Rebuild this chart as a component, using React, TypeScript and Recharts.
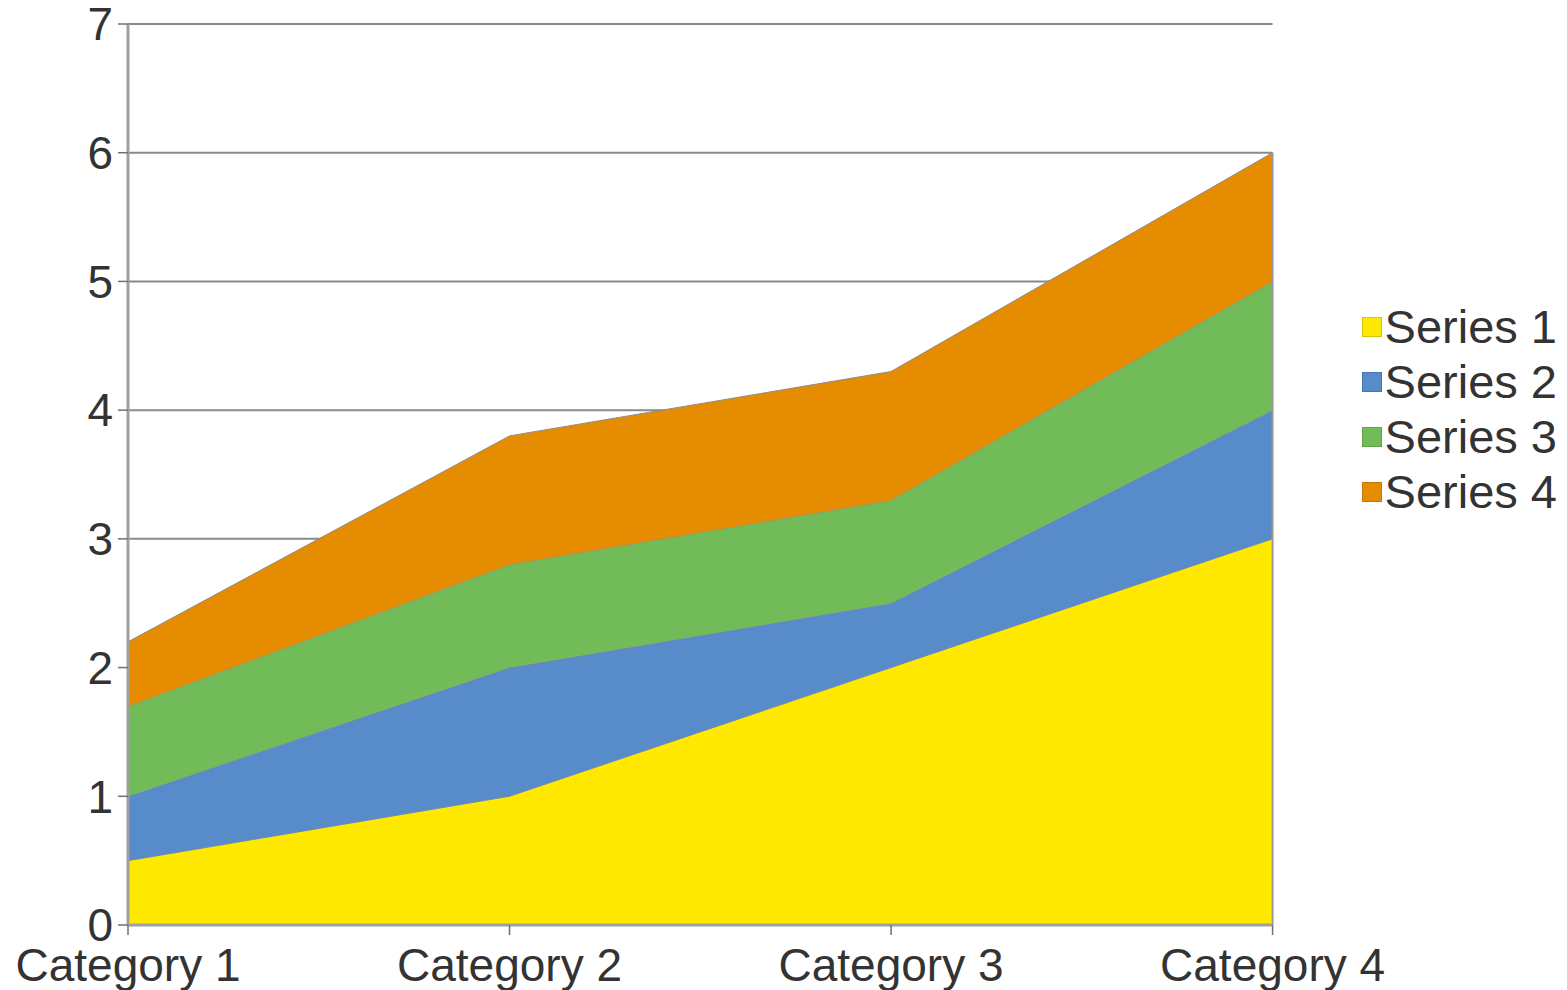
import React from 'react';
import { AreaChart, Area, XAxis, YAxis, CartesianGrid, Legend, ReferenceLine } from 'recharts';

const categories = ['Category 1', 'Category 2', 'Category 3', 'Category 4'];
const series1 = [0.5, 1, 2, 3];
const series2 = [0.5, 1, 0.5, 1];
const series3 = [0.7, 0.8, 0.8, 1];
const series4 = [0.5, 1, 1, 1];
const seriesNames = ['Series 1', 'Series 2', 'Series 3', 'Series 4'];
const seriesColors = ['#FFE900', '#578BC9', '#72BB59', '#E68C00'];
const yTicks = [0, 1, 2, 3, 4, 5, 6, 7];

const data = categories.map((c, i) => ({
  name: c,
  s1: series1[i],
  s2: series2[i],
  s3: series3[i],
  s4: series4[i],
}));
const keys = ['s1', 's2', 's3', 's4'];
const lastIdx = categories.length - 1;
const lastTotal = series1[lastIdx] + series2[lastIdx] + series3[lastIdx] + series4[lastIdx];

const FONT = '"Liberation Sans", Arial, sans-serif';

const LegendContent = () => (
  <div style={{ fontFamily: FONT, fontSize: 47, color: '#333', lineHeight: '55px' }}>
    {seriesNames.map((n, i) => (
      <div key={n} style={{ display: 'flex', alignItems: 'center', whiteSpace: 'nowrap' }}>
        <span
          style={{
            display: 'inline-block',
            width: 20,
            height: 20,
            background: seriesColors[i],
            border: '1px solid rgba(0,0,0,0.15)',
            marginRight: 3,
            boxSizing: 'border-box',
          }}
        />
        <span>{n}</span>
      </div>
    ))}
  </div>
);

export default function App() {
  return (
    <div style={{ position: 'absolute', left: 0, top: 0, background: '#fff' }}>
      <AreaChart
        width={1567}
        height={990}
        data={data}
        margin={{ top: 24, right: 99, bottom: 0, left: 0 }}
      >
        <CartesianGrid horizontal vertical={false} stroke="#8a8a8a" strokeWidth={2} />
        <XAxis
          dataKey="name"
          axisLine={{ stroke: '#a0a0a0', strokeWidth: 3 }}
          tickLine={{ stroke: '#707070', strokeWidth: 1.5 }}
          tickSize={10}
          tickMargin={13}
          height={65}
          interval={0}
          tick={{ fill: '#333', fontSize: 46, fontFamily: FONT }}
        />
        <YAxis
          domain={[0, 7]}
          ticks={yTicks}
          width={128}
          axisLine={{ stroke: '#a0a0a0', strokeWidth: 3 }}
          tickLine={{ stroke: '#707070', strokeWidth: 1.5 }}
          tickSize={10}
          tickMargin={5}
          interval={0}
          tick={{ fill: '#333', fontSize: 46, fontFamily: FONT }}
        />
        {keys.map((k, i) => (
          <Area
            key={k}
            type="linear"
            dataKey={k}
            name={seriesNames[i]}
            stackId="a"
            fill={seriesColors[i]}
            fillOpacity={1}
            stroke="#8a8a8a"
            strokeWidth={1}
            isAnimationActive={false}
            dot={false}
            activeDot={false}
          />
        ))}
        <ReferenceLine
          segment={[
            { x: categories[lastIdx], y: 0 },
            { x: categories[lastIdx], y: lastTotal },
          ]}
          stroke="#9a9a9a"
          strokeWidth={2}
        />
        <Legend
          layout="vertical"
          align="right"
          verticalAlign="top"
          content={<LegendContent />}
          wrapperStyle={{ right: 10, top: 299 }}
        />
      </AreaChart>
    </div>
  );
}
